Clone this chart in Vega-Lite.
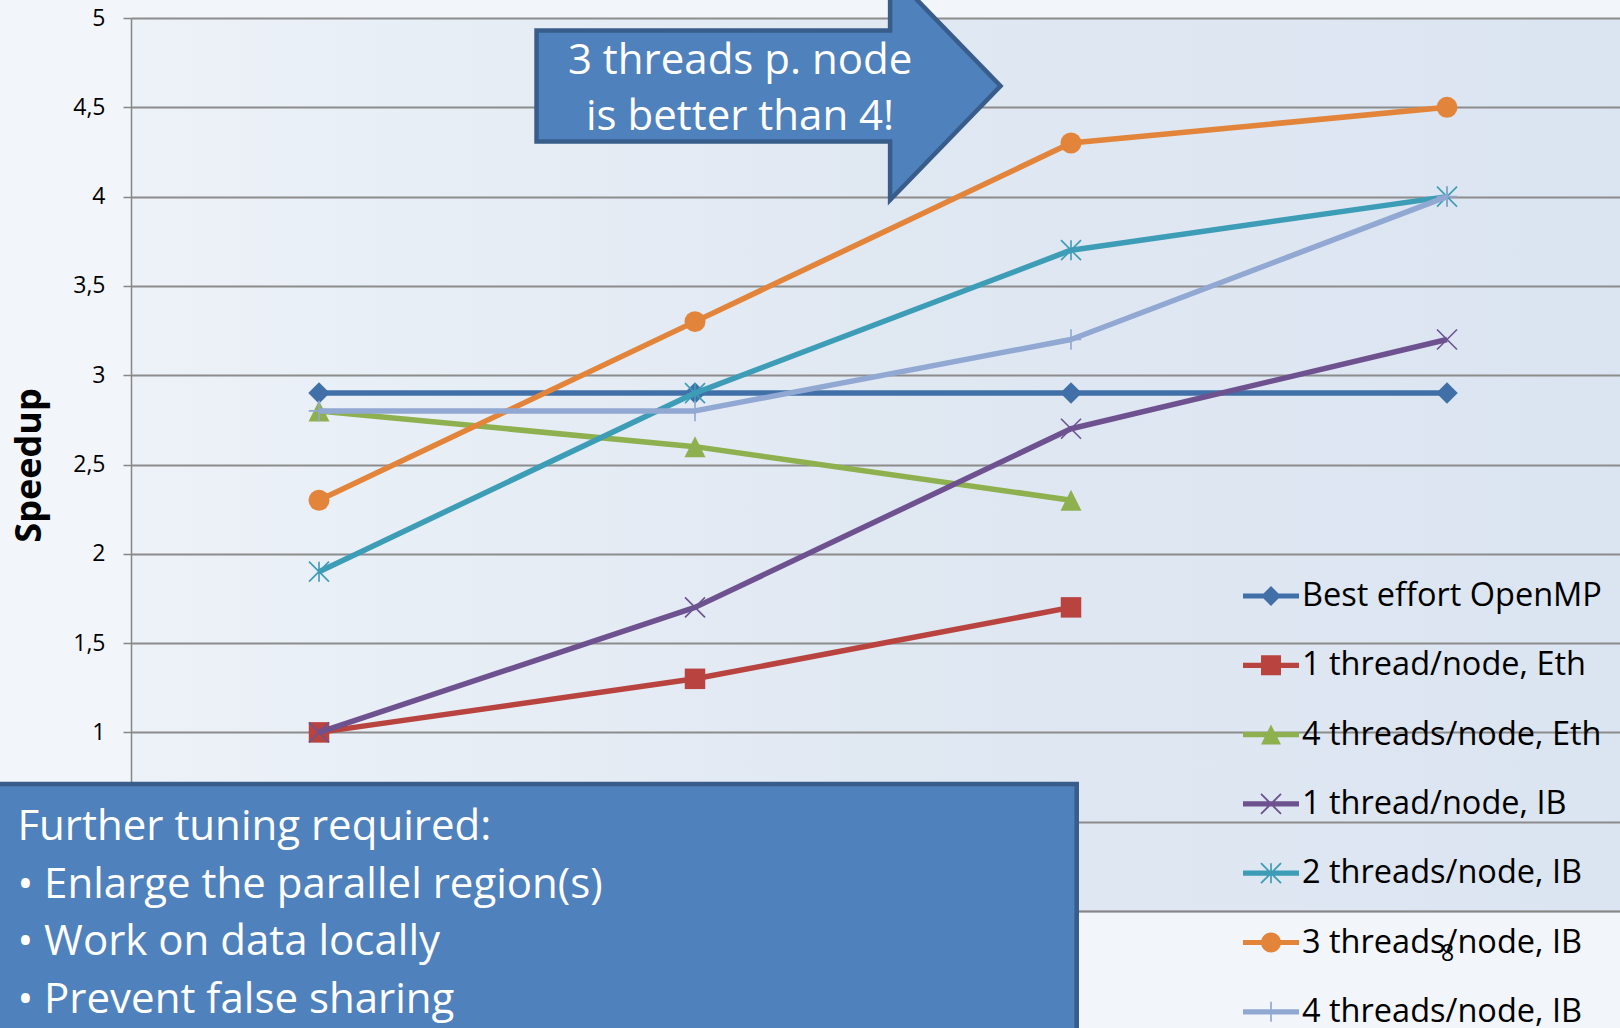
{
  "$schema": "https://vega.github.io/schema/vega-lite/v6.json",
  "width": 1489,
  "height": 893,
  "autosize": {"type": "none"},
  "padding": {"left": 131, "top": 18, "right": 0, "bottom": 117},
  "background": "#f2f6fa",
  "view": {"stroke": null, "fill": {"gradient": "linear", "x1": 0, "x2": 1, "y1": 0, "y2": 0, "stops": [{"offset": 0, "color": "#edf2f8"}, {"offset": 0.5, "color": "#e0e8f2"}, {"offset": 1, "color": "#dbe5f1"}]}},
  "config": {
    "font": "Open Sans",
    "view": {"stroke": null}
  },
  "datasets": {
    "speedups": [
      {"series": "Best effort OpenMP", "nodes": 1, "speedup": 2.9},
      {"series": "Best effort OpenMP", "nodes": 2, "speedup": 2.9},
      {"series": "Best effort OpenMP", "nodes": 4, "speedup": 2.9},
      {"series": "Best effort OpenMP", "nodes": 8, "speedup": 2.9},
      {"series": "1 thread/node, Eth", "nodes": 1, "speedup": 1.0},
      {"series": "1 thread/node, Eth", "nodes": 2, "speedup": 1.3},
      {"series": "1 thread/node, Eth", "nodes": 4, "speedup": 1.7},
      {"series": "4 threads/node, Eth", "nodes": 1, "speedup": 2.8},
      {"series": "4 threads/node, Eth", "nodes": 2, "speedup": 2.6},
      {"series": "4 threads/node, Eth", "nodes": 4, "speedup": 2.3},
      {"series": "1 thread/node, IB", "nodes": 1, "speedup": 1.0},
      {"series": "1 thread/node, IB", "nodes": 2, "speedup": 1.7},
      {"series": "1 thread/node, IB", "nodes": 4, "speedup": 2.7},
      {"series": "1 thread/node, IB", "nodes": 8, "speedup": 3.2},
      {"series": "2 threads/node, IB", "nodes": 1, "speedup": 1.9},
      {"series": "2 threads/node, IB", "nodes": 2, "speedup": 2.9},
      {"series": "2 threads/node, IB", "nodes": 4, "speedup": 3.7},
      {"series": "2 threads/node, IB", "nodes": 8, "speedup": 4.0},
      {"series": "3 threads/node, IB", "nodes": 1, "speedup": 2.3},
      {"series": "3 threads/node, IB", "nodes": 2, "speedup": 3.3},
      {"series": "3 threads/node, IB", "nodes": 4, "speedup": 4.3},
      {"series": "3 threads/node, IB", "nodes": 8, "speedup": 4.5},
      {"series": "4 threads/node, IB", "nodes": 1, "speedup": 2.8},
      {"series": "4 threads/node, IB", "nodes": 2, "speedup": 2.8},
      {"series": "4 threads/node, IB", "nodes": 4, "speedup": 3.2},
      {"series": "4 threads/node, IB", "nodes": 8, "speedup": 4.0}
    ],
    "note": [{"label": "note"}]
  },
  "layer": [
    {
      "data": {"name": "speedups"},
      "encoding": {
        "x": {
          "field": "nodes", "type": "quantitative",
          "scale": {"type": "log", "base": 2, "domain": [0.7071, 11.005], "nice": false},
          "axis": {"values": [1, 2, 4, 8], "format": "d", "labelExpr": "datum.value == 8 ? '8' : ''", "title": null, "grid": false, "ticks": false, "domainColor": "#878787", "domainWidth": 1.5, "labelFontSize": 23, "labelColor": "#000000", "labelPadding": 31}
        },
        "y": {
          "field": "speedup", "type": "quantitative",
          "scale": {"domain": [0, 5], "nice": false, "zero": true},
          "axis": {
            "values": [0, 0.5, 1, 1.5, 2, 2.5, 3, 3.5, 4, 4.5, 5],
            "format": ".1~f",
            "labelExpr": "datum.value < 1 ? '' : replace(datum.label, '.', ',')",
            "title": "Speedup", "titleFontSize": 36, "titleFontWeight": "bold", "titleColor": "#000000",
            "titleX": -102, "titleY": 447, "titleAngle": 270, "titleBaseline": "middle", "titleAlign": "center",
            "labelFontSize": 23, "labelColor": "#000000", "labelPadding": 18,
            "tickSize": 8, "tickColor": "#878787", "tickWidth": 1.5,
            "domainColor": "#878787", "domainWidth": 1.5,
            "grid": true, "gridColor": "#8c8c8c", "gridWidth": 1.8
          }
        }
      },
      "layer": [
        {
          "transform": [{"filter": "datum.series == 'Best effort OpenMP'"}],
          "layer": [
            {"mark": {"type": "line", "color": "#4170a9", "strokeWidth": 5.5, "strokeJoin": "round"}},
            {"mark": {"type": "point", "shape": "M0,-1L1,0L0,1L-1,0Z", "filled": true, "color": "#4170a9", "size": 460, "opacity": 1, "strokeWidth": 0}}
          ]
        },
        {
          "transform": [{"filter": "datum.series == '1 thread/node, Eth'"}],
          "layer": [
            {"mark": {"type": "line", "color": "#b8433f", "strokeWidth": 5.5, "strokeJoin": "round"}},
            {"mark": {"type": "point", "shape": "M-1,-1H1V1H-1Z", "filled": true, "color": "#b8433f", "size": 420, "opacity": 1, "strokeWidth": 0}}
          ]
        },
        {
          "transform": [{"filter": "datum.series == '4 threads/node, Eth'"}],
          "layer": [
            {"mark": {"type": "line", "color": "#8fb04e", "strokeWidth": 5.5, "strokeJoin": "round"}},
            {"mark": {"type": "point", "shape": "M0,-1L1,1H-1Z", "filled": true, "color": "#8fb04e", "size": 440, "opacity": 1, "strokeWidth": 0}}
          ]
        },
        {
          "transform": [{"filter": "datum.series == '1 thread/node, IB'"}],
          "layer": [
            {"mark": {"type": "line", "color": "#6e5290", "strokeWidth": 5.5, "strokeJoin": "round"}},
            {"mark": {"type": "point", "shape": "M-0.942,-1.058L1.058,0.942L0.942,1.058L-1.058,-0.942Z M-1.058,0.942L0.942,-1.058L1.058,-0.942L-0.942,1.058Z", "filled": true, "color": "#6e5290", "size": 400, "opacity": 1, "strokeWidth": 0}}
          ]
        },
        {
          "transform": [{"filter": "datum.series == '2 threads/node, IB'"}],
          "layer": [
            {"mark": {"type": "line", "color": "#3d9db6", "strokeWidth": 5.5, "strokeJoin": "round"}},
            {"mark": {"type": "point", "shape": "M-0.942,-1.058L1.058,0.942L0.942,1.058L-1.058,-0.942Z M-1.058,0.942L0.942,-1.058L1.058,-0.942L-0.942,1.058Z M-0.08,-1H0.08V1H-0.08Z", "filled": true, "color": "#3d9db6", "size": 400, "opacity": 1, "strokeWidth": 0}}
          ]
        },
        {
          "transform": [{"filter": "datum.series == '3 threads/node, IB'"}],
          "layer": [
            {"mark": {"type": "line", "color": "#e2843a", "strokeWidth": 5.5, "strokeJoin": "round"}},
            {"mark": {"type": "point", "shape": "circle", "filled": true, "color": "#e2843a", "size": 440, "opacity": 1, "strokeWidth": 0}}
          ]
        },
        {
          "transform": [{"filter": "datum.series == '4 threads/node, IB'"}],
          "layer": [
            {"mark": {"type": "line", "color": "#91a8d2", "strokeWidth": 5.5, "strokeJoin": "round"}},
            {"mark": {"type": "point", "shape": "M-1,-0.08H1V0.08H-1Z M-0.08,-1H0.08V1H-0.08Z", "filled": true, "color": "#91a8d2", "size": 420, "opacity": 1, "strokeWidth": 0}}
          ]
        }
      ]
    },
    {
      "data": {"name": "note"},
      "mark": {"type": "point", "shape": "M-1,-0.239H0.524V-0.491L1,0L0.524,0.491V0.239H-1Z", "size": 215296, "filled": true, "fill": "#4f81bd", "stroke": "#385d8a", "strokeWidth": 4.5, "opacity": 1},
      "encoding": {
        "x": {"datum": 2.2903, "type": "quantitative"},
        "y": {"datum": 4.619, "type": "quantitative"}
      }
    },
    {
      "data": {"name": "note"},
      "mark": {"type": "text", "text": ["3 threads p. node", "is better than 4!"], "font": "Open Sans", "fontSize": 42, "fill": "#ffffff", "align": "center", "baseline": "middle", "lineHeight": 56},
      "encoding": {
        "x": {"datum": 2.1733, "type": "quantitative"},
        "y": {"datum": 4.757, "type": "quantitative"}
      }
    },
    {
      "data": {"name": "note"},
      "mark": {"type": "rect", "fill": "#4f81bd", "stroke": "#385d8a", "strokeWidth": 4.5, "opacity": 1},
      "encoding": {
        "x": {"datum": 0.5, "type": "quantitative"},
        "x2": {"datum": 4.0424},
        "y": {"datum": 0.7111, "type": "quantitative"},
        "y2": {"datum": -1}
      }
    },
    {
      "data": {"name": "note"},
      "mark": {"type": "text", "text": ["Further tuning required:", "• Enlarge the parallel region(s)", "• Work on data locally", "• Prevent false sharing"], "font": "Open Sans", "fontSize": 42, "fill": "#ffffff", "align": "left", "baseline": "alphabetic", "lineHeight": 57.6},
      "encoding": {
        "x": {"datum": 0.5735, "type": "quantitative"},
        "y": {"datum": 0.3975, "type": "quantitative"}
      }
    },
    {
      "data": {"name": "speedups"},
      "transform": [{"filter": "datum.speedup < 0"}],
      "mark": {"type": "point", "filled": true, "size": 3136, "opacity": 1, "strokeWidth": 0},
      "encoding": {
        "x": {"field": "nodes", "type": "quantitative"},
        "y": {"field": "speedup", "type": "quantitative"},
        "color": {
          "field": "series", "type": "nominal",
          "scale": {
            "domain": ["Best effort OpenMP", "1 thread/node, Eth", "4 threads/node, Eth", "1 thread/node, IB", "2 threads/node, IB", "3 threads/node, IB", "4 threads/node, IB"],
            "range": ["#4170a9", "#b8433f", "#8fb04e", "#6e5290", "#3d9db6", "#e2843a", "#91a8d2"]
          },
          "legend": {"title": null, "orient": "none", "legendX": 1112, "legendY": 550, "padding": 0, "symbolSize": 3136, "symbolStrokeWidth": 0, "rowPadding": 24.3, "labelOffset": 3, "labelFontSize": 32.5, "labelColor": "#000000", "labelLimit": 500}
        },
        "shape": {
          "field": "series", "type": "nominal",
          "scale": {
            "domain": ["Best effort OpenMP", "1 thread/node, Eth", "4 threads/node, Eth", "1 thread/node, IB", "2 threads/node, IB", "3 threads/node, IB", "4 threads/node, IB"],
            "range": [
              "M-1,-0.093H1V0.093H-1Z M0,-0.357L0.357,0L0,0.357L-0.357,0Z",
              "M-1,-0.093H1V0.093H-1Z M-0.357,-0.357H0.357V0.357H-0.357Z",
              "M-1,-0.093H1V0.093H-1Z M0,-0.357L0.357,0.357H-0.357Z",
              "M-1,-0.093H1V0.093H-1Z M-0.334,-0.38L0.38,0.334L0.334,0.38L-0.38,-0.334Z M-0.38,0.334L0.334,-0.38L0.38,-0.334L-0.334,0.38Z",
              "M-1,-0.093H1V0.093H-1Z M-0.334,-0.38L0.38,0.334L0.334,0.38L-0.38,-0.334Z M-0.38,0.334L0.334,-0.38L0.38,-0.334L-0.334,0.38Z M-0.03,-0.357H0.03V0.357H-0.03Z",
              "M-1,-0.093H1V0.093H-1Z M0.357,0A0.357,0.357,0,1,1,-0.357,0A0.357,0.357,0,1,1,0.357,0Z",
              "M-1,-0.093H1V0.093H-1Z M-0.03,-0.357H0.03V0.357H-0.03Z"
            ]
          },
          "legend": {"title": null, "orient": "none", "legendX": 1112, "legendY": 550, "padding": 0, "symbolSize": 3136, "symbolStrokeWidth": 0, "rowPadding": 24.3, "labelOffset": 3, "labelFontSize": 32.5, "labelColor": "#000000", "labelLimit": 500}
        }
      }
    }
  ]
}
